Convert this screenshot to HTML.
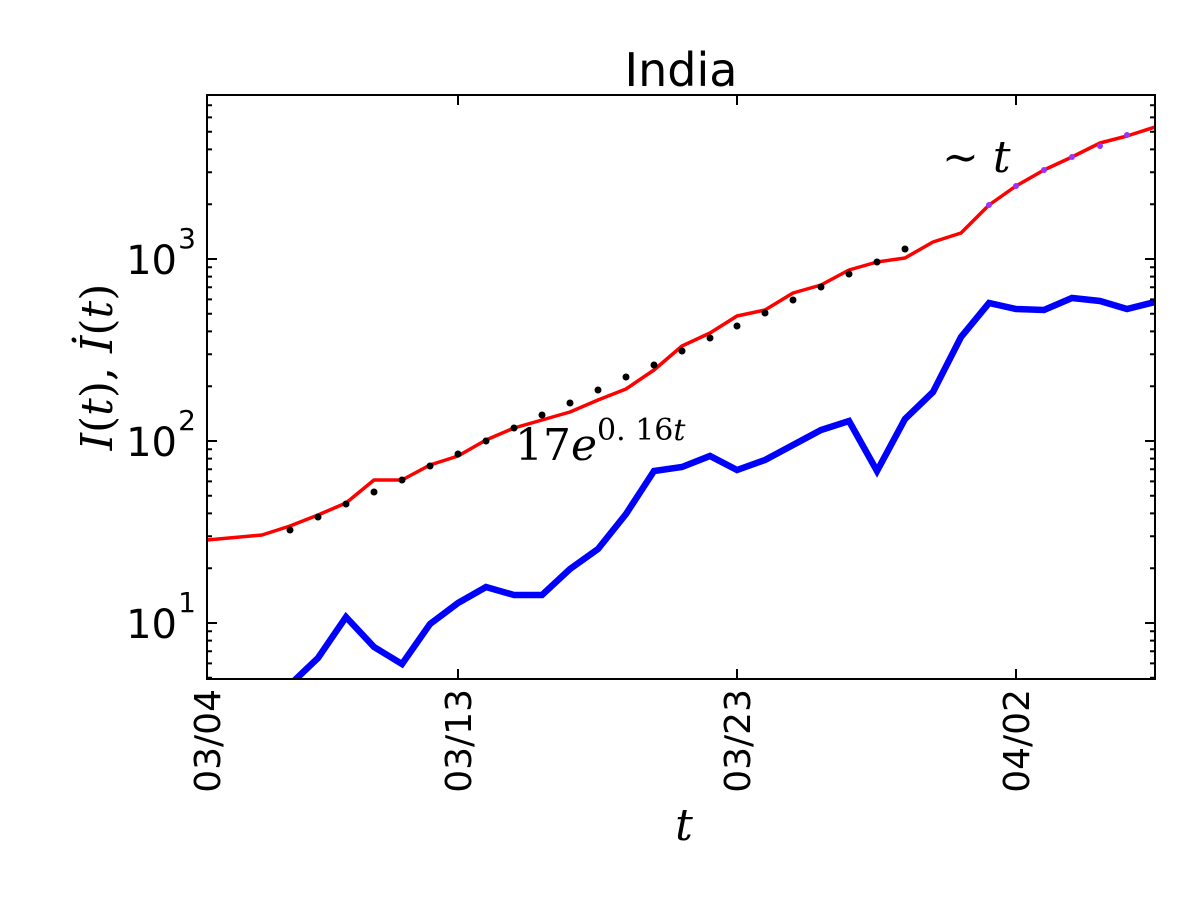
<!DOCTYPE html>
<html><head><meta charset="utf-8"><style>html,body{margin:0;padding:0;background:#fff}</style></head>
<body>
<svg width="1200" height="901" xmlns="http://www.w3.org/2000/svg" font-family="'DejaVu Sans', 'Liberation Sans', sans-serif">
<rect width="1200" height="901" fill="#fff"/>
<defs><clipPath id="c"><rect x="207" y="95" width="948" height="584"/></clipPath></defs>
<g clip-path="url(#c)">
<polyline fill="none" stroke="#ff0000" stroke-width="3.5" stroke-linejoin="round" points="207,540 262,535 290,526 318,515 346,503 374,480 402,480 430,465 458,456 486,440 514,428 542,420 570,412 598,400 626,389 654,370 682,346 710,333 737,316 765,310 793,293 821,285 849,270 877,262 905,258 933,242 961,233 989,205 1016,186 1044,170 1072,157 1100,143 1127,136 1155,127"/>
<g fill="#000">
<circle cx="290" cy="530" r="3.5"/><circle cx="318" cy="517" r="3.5"/><circle cx="346" cy="504" r="3.5"/><circle cx="374" cy="492" r="3.5"/><circle cx="402" cy="480" r="3.5"/><circle cx="430" cy="466" r="3.5"/><circle cx="458" cy="454" r="3.5"/><circle cx="486" cy="441" r="3.5"/><circle cx="514" cy="428" r="3.5"/><circle cx="542" cy="415" r="3.5"/><circle cx="570" cy="403" r="3.5"/><circle cx="598" cy="390" r="3.5"/><circle cx="626" cy="377" r="3.5"/><circle cx="654" cy="365" r="3.5"/><circle cx="682" cy="351" r="3.5"/><circle cx="710" cy="338" r="3.5"/><circle cx="737" cy="326" r="3.5"/><circle cx="765" cy="313" r="3.5"/><circle cx="793" cy="300" r="3.5"/><circle cx="821" cy="287" r="3.5"/><circle cx="849" cy="274" r="3.5"/><circle cx="877" cy="262" r="3.5"/><circle cx="905" cy="249" r="3.5"/>
</g>
<g fill="#9933ff">
<circle cx="989" cy="205" r="3"/><circle cx="1016" cy="186" r="3"/><circle cx="1044" cy="170" r="3"/><circle cx="1072" cy="157" r="3"/><circle cx="1100" cy="146" r="3"/><circle cx="1127" cy="135" r="3"/>
</g>
<polyline fill="none" stroke="#0000ff" stroke-width="6.5" stroke-linejoin="miter" points="290,685 296,679 318,658 346,617 374,647 402,664 430,624 458,603 486,587 514,595 542,595 570,569 598,549 626,514 654,471 682,467 710,456 737,470 765,460 793,445 821,430 849,421 877,471 905,419 933,392 961,337 989,303 1016,309 1044,310 1072,298 1100,301 1127,309 1155,302"/>
</g>
<rect x="207" y="95" width="948" height="584" fill="none" stroke="#000" stroke-width="2"/>
<path stroke="#000" stroke-width="2" fill="none" d="
M207,623h10M207,441h10M207,259h10M1155,623h-10M1155,441h-10M1155,259h-10
M458,679v-10M737,679v-10M1016,679v-10M458,95v10M737,95v10M1016,95v10
M207,677.8h5M207,663.4h5M207,651.2h5M207,640.6h5M207,631.3h5
M207,568.2h5M207,536.2h5M207,513.4h5M207,495.8h5M207,481.4h5M207,469.2h5M207,458.6h5M207,449.3h5
M207,386.2h5M207,354.2h5M207,331.4h5M207,313.8h5M207,299.4h5M207,287.2h5M207,276.6h5M207,267.3h5
M207,204.2h5M207,172.2h5M207,149.4h5M207,131.8h5M207,117.4h5M207,105.2h5
M1155,677.8h-5M1155,663.4h-5M1155,651.2h-5M1155,640.6h-5M1155,631.3h-5
M1155,568.2h-5M1155,536.2h-5M1155,513.4h-5M1155,495.8h-5M1155,481.4h-5M1155,469.2h-5M1155,458.6h-5M1155,449.3h-5
M1155,386.2h-5M1155,354.2h-5M1155,331.4h-5M1155,313.8h-5M1155,299.4h-5M1155,287.2h-5M1155,276.6h-5M1155,267.3h-5
M1155,204.2h-5M1155,172.2h-5M1155,149.4h-5M1155,131.8h-5M1155,117.4h-5M1155,105.2h-5"/>
<g font-size="40" fill="#000" text-anchor="end">
<text x="177" y="638">10</text><text x="196" y="612" font-size="28">1</text>
<text x="177" y="456">10</text><text x="196" y="430" font-size="28">2</text>
<text x="177" y="274">10</text><text x="196" y="248" font-size="28">3</text>
</g>
<g font-size="36" fill="#000" text-anchor="end">
<text transform="translate(220,689) rotate(-90)">03/04</text>
<text transform="translate(471,689) rotate(-90)">03/13</text>
<text transform="translate(750,689) rotate(-90)">03/23</text>
<text transform="translate(1029,689) rotate(-90)">04/02</text>
</g>
<text x="681" y="86" font-size="46" text-anchor="middle">India</text>
<text x="684" y="840" font-size="44" font-style="italic" text-anchor="middle" font-family="'DejaVu Serif', 'Liberation Serif', serif">t</text>
<text transform="translate(112,367) rotate(-90)" font-size="44" text-anchor="middle" font-family="'DejaVu Serif', 'Liberation Serif', serif"><tspan font-style="italic">I</tspan>(<tspan font-style="italic">t</tspan>), <tspan font-style="italic">İ</tspan>(<tspan font-style="italic">t</tspan>)</text>
<text x="515" y="460" font-size="44" font-family="'DejaVu Serif', 'Liberation Serif', serif">17<tspan font-style="italic">e</tspan><tspan font-size="30" dy="-20">0. 16<tspan font-style="italic">t</tspan></tspan></text>
<text x="942" y="172" font-size="44" font-family="'DejaVu Serif', 'Liberation Serif', serif">∼ <tspan font-style="italic">t</tspan></text>
</svg>
</body></html>
